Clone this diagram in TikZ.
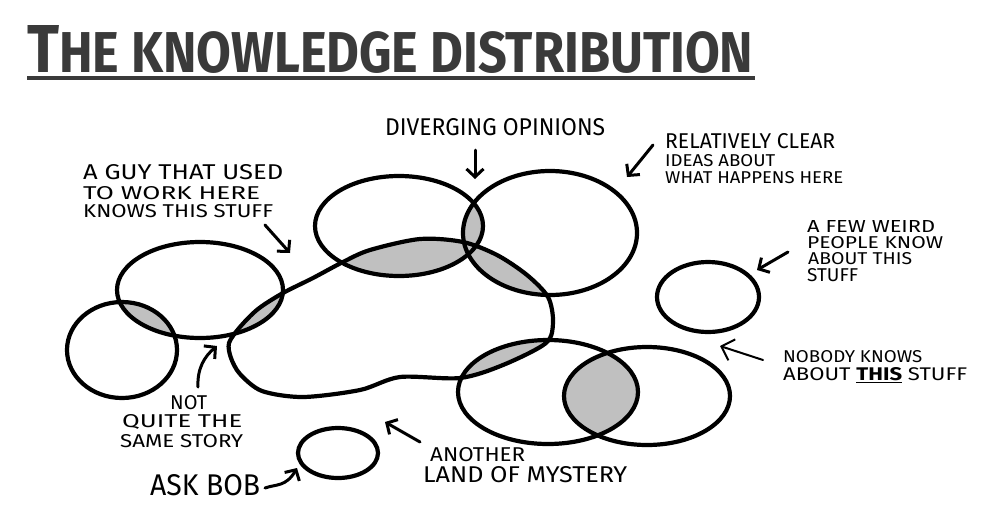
\documentclass[tikz,border=0pt]{standalone}
\usepackage{fontspec}
\setmainfont{Fira Sans}
\usetikzlibrary{arrows.meta}
\definecolor{lens}{RGB}{192,192,192}
\definecolor{titlegray}{RGB}{58,58,58}
\newcommand\labsz{\fontsize{20}{20}\selectfont}
\begin{document}
\begin{tikzpicture}[x=1pt,y=-1pt,
  outline/.style={line width=4.2pt},
  lab/.style={anchor=north west, inner sep=0pt, font=\labsz},
  ptr/.style={line width=3pt, line cap=round, line join=round, -{Straight Barb[length=8pt,width=17pt]}},
  thinptr/.style={line width=2pt, line cap=round, line join=round, -{Straight Barb[length=11pt,width=22pt]}}]
\useasboundingbox[fill=white] (0,0) rectangle (993,504);

% shapes
\def\eA{(122,350) ellipse [x radius=55pt, y radius=48pt]}
\def\eB{(200,290) ellipse [x radius=83pt, y radius=48pt]}
\def\eC{(399,226) ellipse [x radius=84pt, y radius=50pt]}
\def\eD{(550,233) ellipse [x radius=87pt, y radius=62pt]}
\def\eE{(708,297) ellipse [x radius=51pt, y radius=35pt]}
\def\eF{(548,392) ellipse [x radius=90pt, y radius=52pt]}
\def\eG{(647,396) ellipse [x radius=83pt, y radius=49pt]}
\def\eH{(338,453) ellipse [x radius=40pt, y radius=25pt]}
\def\blob{plot[smooth cycle, tension=0.5] coordinates {(229,343) (240,327) (258,309) (283,293) (313,278) (343,262) (370,250) (420,239) (463,242) (497,255) (527,275) (548,297) (553,322) (546,343) (503,365) (460,378) (400,377) (360,390) (303,397) (262,391) (240,374) (231,358)}}

% grey overlaps
\begin{scope}\clip \eA; \fill[lens] \eB; \end{scope}
\begin{scope}\clip \eB; \fill[lens] \blob; \end{scope}
\begin{scope}\clip \eC; \fill[lens] \eD; \end{scope}
\begin{scope}\clip \eC; \fill[lens] \blob; \end{scope}
\begin{scope}\clip \eD; \fill[lens] \blob; \end{scope}
\begin{scope}\clip \eF; \fill[lens] \blob; \end{scope}
\begin{scope}\clip \eF; \fill[lens] \eG; \end{scope}

% outlines
\draw[outline] \eA;
\draw[outline] \eB;
\draw[outline] \eC;
\draw[outline] \eD;
\draw[outline] \eE;
\draw[outline] \eF;
\draw[outline] \eG;
\draw[outline] \eH;
\draw[outline] \blob;

% title
\node[anchor=north west, inner sep=0pt, text=titlegray, font=\bfseries] (title) at (27,25)
  {\resizebox{726pt}{47pt}{{\fontsize{20}{20}\selectfont T}{\fontsize{17}{17}\selectfont HE KNOWLEDGE DISTRIBUTION}}};
\fill[titlegray] (27,76) rectangle (755,80);

% labels
\node[lab] (div) at (385,118) {\resizebox{220pt}{17pt}{DIVERGING OPINIONS}};
\node[lab] (rel1) at (665,133) {\resizebox{170pt}{15pt}{RELATIVELY CLEAR}};
\node[lab] (rel2) at (665,154) {\resizebox{110pt}{12pt}{IDEAS ABOUT}};
\node[lab] (rel3) at (665,171) {\resizebox{178pt}{12pt}{WHAT HAPPENS HERE}};
\node[lab] (guy1) at (83,164) {\resizebox{200pt}{15pt}{A GUY THAT USED}};
\node[lab] (guy2) at (83,186) {\resizebox{177pt}{13pt}{TO WORK HERE}};
\node[lab] (guy3) at (83,204) {\resizebox{190pt}{13pt}{KNOWS THIS STUFF}};
\node[lab] (few1) at (807,220) {\resizebox{128pt}{12pt}{A FEW WEIRD}};
\node[lab] (few2) at (807,236) {\resizebox{136pt}{12pt}{PEOPLE KNOW}};
\node[lab] (few3) at (808,252) {\resizebox{104pt}{12pt}{ABOUT THIS}};
\node[lab] (few4) at (807,268) {\resizebox{51pt}{13pt}{STUFF}};
\node[lab] (nob1) at (783,350) {\resizebox{139pt}{12pt}{NOBODY KNOWS}};
\node[lab] (nob2) at (783,367) {\resizebox{184pt}{13pt}{ABOUT \underline{\bfseries THIS} STUFF}};
\node[lab] (not1) at (170,395) {\resizebox{37pt}{14pt}{NOT}};
\node[lab] (not2) at (122,414) {\resizebox{120pt}{13pt}{QUITE THE}};
\node[lab] (not3) at (120,434) {\resizebox{123pt}{13pt}{SAME STORY}};
\node[lab] (bob) at (150,474) {\resizebox{110pt}{21pt}{ASK BOB}};
\node[lab] (ano1) at (430,447) {\resizebox{95pt}{14pt}{ANOTHER}};
\node[lab] (ano2) at (423,466) {\resizebox{204pt}{16pt}{LAND OF MYSTERY}};

% arrows
\coordinate (divS) at (475,150); \coordinate (divE) at (475,179);
\coordinate (relS) at (653,145); \coordinate (relE) at (627,177);
\coordinate (guyS) at (265,225); \coordinate (guyE) at (290,253);
\coordinate (fewS) at (788,252); \coordinate (fewE) at (757,270);
\coordinate (nobS) at (763,360); \coordinate (nobE) at (720,346);
\coordinate (notS) at (198,387); \coordinate (notE) at (217,346);
\coordinate (bobS) at (265,488); \coordinate (bobE) at (297,468);
\coordinate (anoS) at (420,442); \coordinate (anoE) at (385,422);
\draw[ptr] (divS) -- (divE);
\draw[ptr] (relS) -- (relE);
\draw[ptr] (guyS) -- (guyE);
\draw[ptr] (fewS) -- (fewE);
\draw[thinptr] (nobS) -- (nobE);
\draw[ptr] (notS) .. controls (197,368) and (205,356) .. (notE);
\draw[ptr] (bobS) .. controls (276,484) and (286,487) .. (bobE);
\draw[ptr] (anoS) -- (anoE);
\end{tikzpicture}
\end{document}
